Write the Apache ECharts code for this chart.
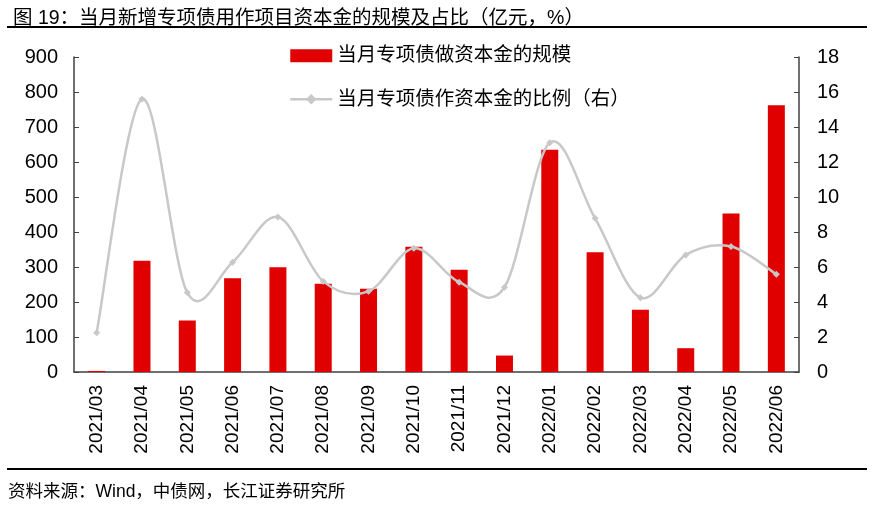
<!DOCTYPE html>
<html><head><meta charset="utf-8">
<script src="https://cdn.jsdelivr.net/npm/echarts@6/dist/echarts.min.js"></script>
<style>html,body{margin:0;padding:0;background:#fff}#c{width:872px;height:509px}</style>
</head><body><div id="c"></div>
<script>
const categories = ['2021/03','2021/04','2021/05','2021/06','2021/07','2021/08','2021/09','2021/10','2021/11','2021/12','2022/01','2022/02','2022/03','2022/04','2022/05','2022/06'];
const scaleValues = [3,318,147,268,299,252,238,358,292,47,635,342,178,68,453,762];
const ratioValues = [2.25,15.6,4.54,6.27,8.86,5.18,4.61,7.07,5.13,4.84,13.1,8.78,4.25,6.69,7.17,5.58];
const leftTicks = [0,100,200,300,400,500,600,700,800,900];
const rightTicks = [0,2,4,6,8,10,12,14,16,18];
const FONT = "'Liberation Sans','Noto Sans CJK SC',sans-serif";
const LINE_COLOR = '#c8c8c8';
const chart = echarts.init(document.getElementById('c'));
const n = ratioValues.length;
function smoothSegment(params, api){
  const i = params.dataIndex;
  if (i >= n - 1) return null;
  const c = k => Math.max(0, Math.min(n - 1, k));
  const p = k => api.coord([c(k), ratioValues[c(k)]]);
  const p0 = p(i - 1), p1 = p(i), p2 = p(i + 1), p3 = p(i + 2);
  const t = 1 / 6;
  return {type:'bezierCurve',
    shape:{x1:p1[0],y1:p1[1],x2:p2[0],y2:p2[1],
      cpx1:p1[0]+(p2[0]-p0[0])*t, cpy1:p1[1]+(p2[1]-p0[1])*t,
      cpx2:p2[0]-(p3[0]-p1[0])*t, cpy2:p2[1]-(p3[1]-p1[1])*t},
    style:{stroke:LINE_COLOR,lineWidth:2.5,fill:null}};
}
chart.setOption({
  animation:false,
  textStyle:{fontFamily:FONT},
  title:{text:'图 19：当月新增专项债用作项目资本金的规模及占比（亿元，%）',left:8,top:4,textStyle:{fontSize:19.5,fontWeight:'normal',color:'#000',fontFamily:FONT}},
  graphic:[
    {type:'rect',shape:{x:7,y:26,width:860,height:2},style:{fill:'#000'}},
    {type:'rect',shape:{x:7,y:468,width:860,height:2},style:{fill:'#000'}},
    {type:'text',left:8,top:483,style:{text:'资料来源：Wind，中债网，长江证券研究所',fontSize:17.5,fill:'#000',fontFamily:FONT}}
  ],
  legend:{orient:'vertical',left:284,top:41,itemGap:24,itemWidth:42,itemHeight:13,
    textStyle:{fontSize:19.5,color:'#000',fontFamily:FONT},
    data:[{name:'当月专项债做资本金的规模',icon:'rect'},
          {name:'当月专项债作资本金的比例（右）',lineStyle:{color:LINE_COLOR,width:2.5,opacity:1}}]},
  grid:{left:74,right:73,top:57,bottom:137},
  xAxis:{type:'category',data:categories,
    axisLine:{lineStyle:{color:'#404040',width:1.5}},
    axisTick:{inside:true,length:5,lineStyle:{color:'#404040'}},
    axisLabel:{rotate:90,fontSize:19,color:'#000',interval:0,margin:13}},
  yAxis:[
    {type:'value',min:0,max:900,interval:100,splitLine:{show:false},
     axisLine:{show:true,lineStyle:{color:'#404040',width:1.5}},
     axisTick:{show:true,inside:true,length:5,lineStyle:{color:'#404040'}},
     axisLabel:{fontSize:20,color:'#000',margin:16}},
    {type:'value',min:0,max:18,interval:2,splitLine:{show:false},position:'right',
     axisLine:{show:true,lineStyle:{color:'#404040',width:1.5}},
     axisTick:{show:true,inside:true,length:5,lineStyle:{color:'#404040'}},
     axisLabel:{fontSize:20,color:'#000',margin:18}}
  ],
  series:[
    {name:'当月专项债做资本金的规模',type:'bar',data:scaleValues,barWidth:17,itemStyle:{color:'#e00000'}},
    {name:'比例平滑线',type:'custom',yAxisIndex:1,data:ratioValues.map((v,i)=>[i,v]),
     encode:{x:0,y:1},renderItem:smoothSegment,z:3},
    {name:'当月专项债作资本金的比例（右）',type:'line',yAxisIndex:1,data:ratioValues,
     symbol:'diamond',symbolSize:7,lineStyle:{color:LINE_COLOR,width:2.5,opacity:0},itemStyle:{color:LINE_COLOR},z:4}
  ]
});
</script></body></html>
